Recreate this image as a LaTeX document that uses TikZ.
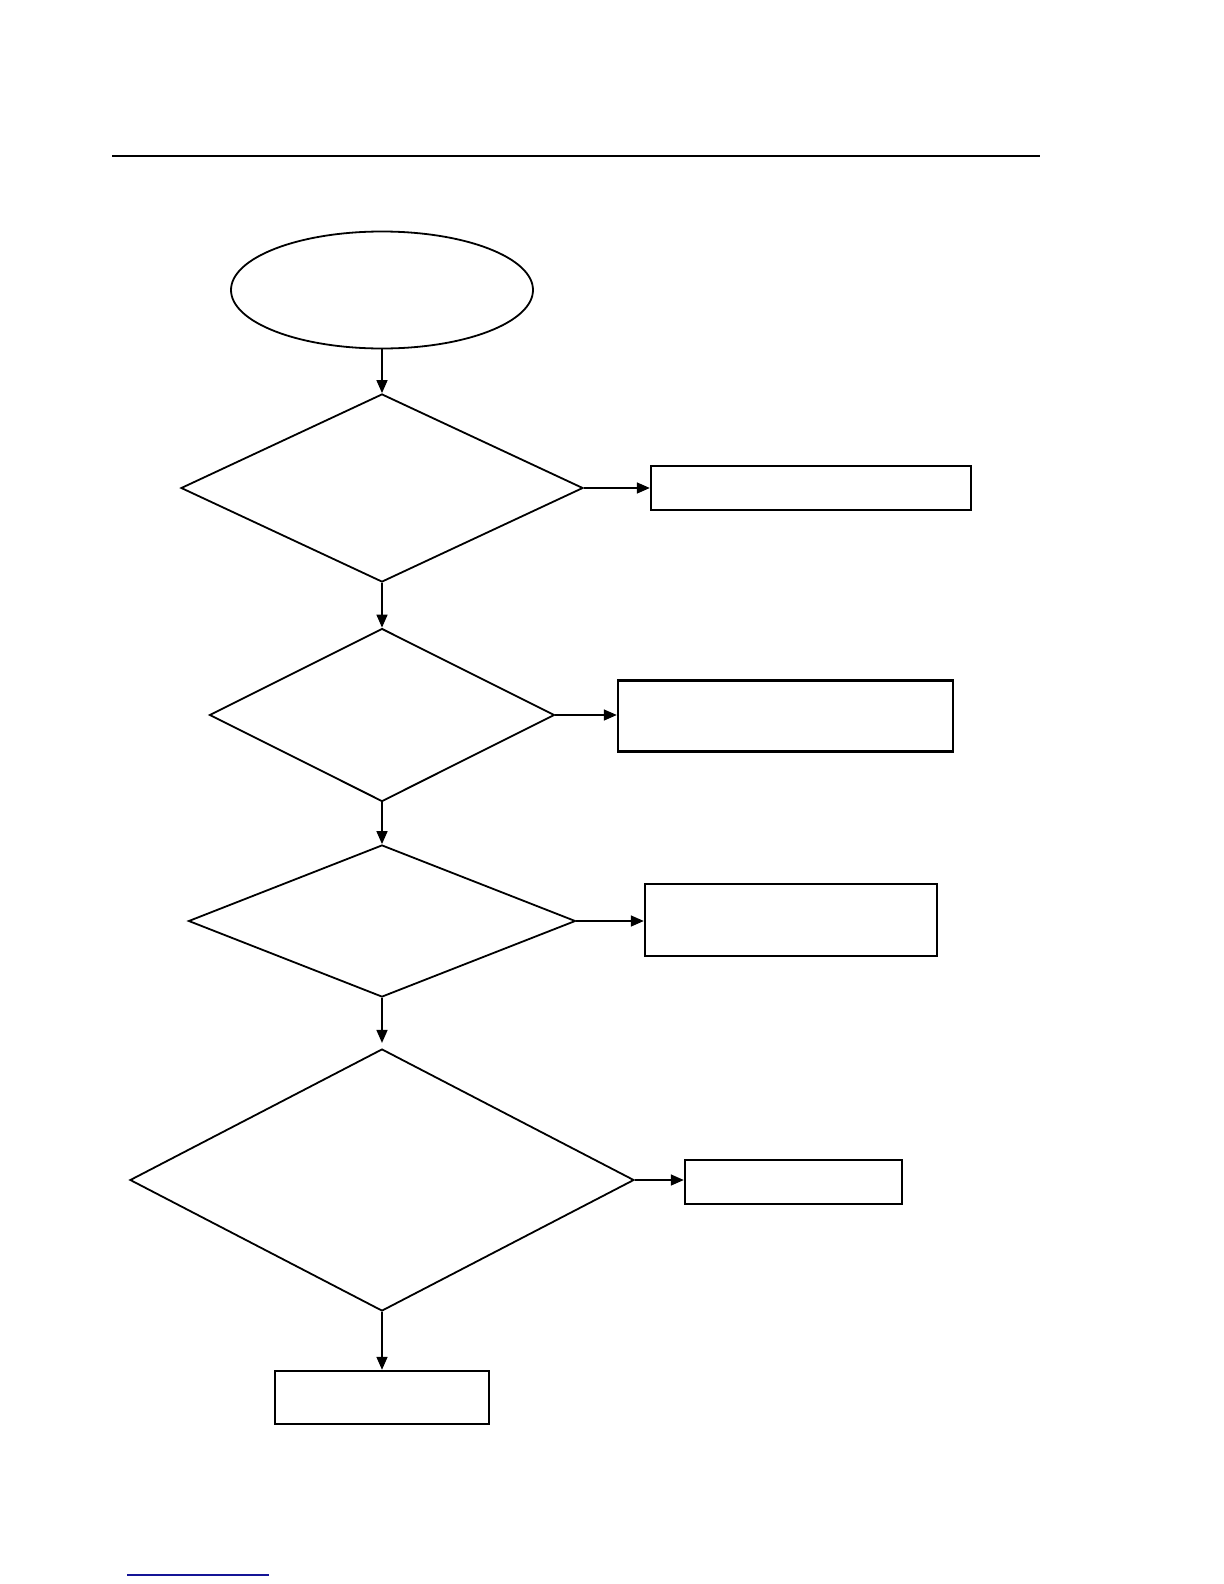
\documentclass[tikz,border=0pt]{standalone}
\usetikzlibrary{shapes.geometric,arrows.meta}
\begin{document}
\begin{tikzpicture}[x=0.5pt,y=-0.5pt,
  shp/.style={draw,line width=0.9pt,inner sep=0pt},
  dia/.style={shp,diamond},
  boxn/.style={draw,line width=1.2pt,inner sep=0pt,rectangle},
  conn/.style={line width=0.8pt,-{Triangle[length=6.5pt,width=5.5pt]}}]
\useasboundingbox (0,0) rectangle (1224,1584);
\coordinate (hl1) at (112,156);
\coordinate (hl2) at (1040,156);
\draw[line width=1pt] (hl1) -- (hl2);
\coordinate (bl1) at (127,1575);
\coordinate (bl2) at (269,1575);
\draw[line width=0.8pt,color={rgb,255:red,20;green,20;blue,150}] (bl1) -- (bl2);

\node[shp,ellipse,minimum width=151pt,minimum height=58.5pt] (e) at (382,290) {};
\node[dia,minimum width=201pt,minimum height=94pt] (d1) at (382,488) {};
\node[boxn,minimum width=160pt,minimum height=22pt] (b1) at (811,488) {};
\node[dia,minimum width=172.5pt,minimum height=86.5pt] (d2) at (382,715) {};
\node[boxn,minimum width=167.5pt,minimum height=35.5pt] (b2) at (785.5,716) {};
\node[dia,minimum width=193.5pt,minimum height=76pt] (d3) at (382,921) {};
\node[boxn,minimum width=146pt,minimum height=36pt] (b3) at (791,920) {};
\node[dia,minimum width=252pt,minimum height=131pt] (d4) at (382,1180) {};
\node[boxn,minimum width=108.5pt,minimum height=22pt] (b4) at (793.5,1182) {};
\node[boxn,minimum width=107pt,minimum height=26.5pt] (b5) at (382,1397.5) {};

\draw[conn] (e.south) -- (d1.north);
\draw[conn] (d1.south) -- (d2.north);
\draw[conn] (d2.south) -- (d3.north);
\draw[conn] (d3.south) -- ++(0,45);
\draw[conn] (d4.south) -- (b5.north);
\draw[conn] (d1.east) -- (d1.east -| b1.west);
\draw[conn] (d2.east) -- (d2.east -| b2.west);
\draw[conn] (d3.east) -- (d3.east -| b3.west);
\draw[conn] (d4.east) -- (d4.east -| b4.west);
\end{tikzpicture}
\end{document}
